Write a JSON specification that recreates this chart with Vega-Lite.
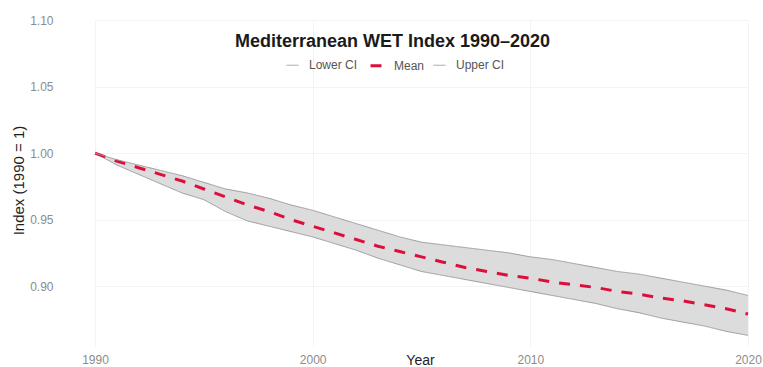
{
  "$schema": "https://vega.github.io/schema/vega-lite/v6.json",
  "autosize": "none",
  "padding": {"left": 95, "top": 20, "right": 15, "bottom": 21},
  "width": 653,
  "height": 326,
  "background": "white",
  "config": {
    "font": "Liberation Sans",
    "view": {"stroke": null},
    "axis": {
      "domain": false,
      "ticks": false,
      "grid": true,
      "gridColor": "#f3f3f3",
      "gridWidth": 1,
      "labelColor": "#8c8c8c",
      "labelFontSize": 12,
      "labelFlush": false,
      "titleColor": "#1e1e1e",
      "titleFontWeight": "normal"
    }
  },
  "title": {
    "text": "Mediterranean WET Index 1990–2020",
    "fontSize": 18,
    "fontWeight": "bold",
    "color": "#1a1a1a",
    "anchor": "middle",
    "frame": "group",
    "baseline": "alphabetic",
    "offset": 0,
    "dx": -29,
    "dy": 51
  },
  "data": {
    "values": [
      {"year": 1990, "lower": 1.000, "mean": 1.000, "upper": 1.000},
      {"year": 1991, "lower": 0.991, "mean": 0.994, "upper": 0.995},
      {"year": 1992, "lower": 0.984, "mean": 0.989, "upper": 0.991},
      {"year": 1993, "lower": 0.977, "mean": 0.984, "upper": 0.987},
      {"year": 1994, "lower": 0.970, "mean": 0.979, "upper": 0.983},
      {"year": 1995, "lower": 0.965, "mean": 0.973, "upper": 0.978},
      {"year": 1996, "lower": 0.956, "mean": 0.967, "upper": 0.973},
      {"year": 1997, "lower": 0.949, "mean": 0.961, "upper": 0.970},
      {"year": 1998, "lower": 0.945, "mean": 0.956, "upper": 0.966},
      {"year": 1999, "lower": 0.941, "mean": 0.950, "upper": 0.961},
      {"year": 2000, "lower": 0.937, "mean": 0.945, "upper": 0.957},
      {"year": 2001, "lower": 0.932, "mean": 0.940, "upper": 0.952},
      {"year": 2002, "lower": 0.927, "mean": 0.935, "upper": 0.947},
      {"year": 2003, "lower": 0.921, "mean": 0.930, "upper": 0.942},
      {"year": 2004, "lower": 0.916, "mean": 0.926, "upper": 0.937},
      {"year": 2005, "lower": 0.911, "mean": 0.922, "upper": 0.933},
      {"year": 2006, "lower": 0.908, "mean": 0.918, "upper": 0.931},
      {"year": 2007, "lower": 0.905, "mean": 0.914, "upper": 0.929},
      {"year": 2008, "lower": 0.902, "mean": 0.911, "upper": 0.927},
      {"year": 2009, "lower": 0.899, "mean": 0.908, "upper": 0.925},
      {"year": 2010, "lower": 0.896, "mean": 0.906, "upper": 0.922},
      {"year": 2011, "lower": 0.893, "mean": 0.903, "upper": 0.920},
      {"year": 2012, "lower": 0.890, "mean": 0.901, "upper": 0.917},
      {"year": 2013, "lower": 0.887, "mean": 0.899, "upper": 0.914},
      {"year": 2014, "lower": 0.883, "mean": 0.896, "upper": 0.911},
      {"year": 2015, "lower": 0.880, "mean": 0.894, "upper": 0.909},
      {"year": 2016, "lower": 0.876, "mean": 0.891, "upper": 0.906},
      {"year": 2017, "lower": 0.873, "mean": 0.889, "upper": 0.903},
      {"year": 2018, "lower": 0.870, "mean": 0.886, "upper": 0.900},
      {"year": 2019, "lower": 0.866, "mean": 0.883, "upper": 0.897},
      {"year": 2020, "lower": 0.863, "mean": 0.879, "upper": 0.893}
    ]
  },
  "encoding": {
    "x": {
      "field": "year",
      "type": "quantitative",
      "scale": {"domain": [1990, 2020], "nice": false, "zero": false},
      "axis": {
        "values": [1990, 2000, 2010, 2020],
        "format": "d",
        "labelPadding": 8,
        "title": "Year",
        "titleFontSize": 14,
        "titleX": 325,
        "titleY": 14,
        "titleBaseline": "middle",
        "titleAlign": "center"
      }
    }
  },
  "layer": [
    {
      "mark": {"type": "area", "color": "#d8d8d8", "opacity": 0.9},
      "encoding": {
        "y": {
          "field": "lower",
          "type": "quantitative",
          "scale": {"domain": [0.855, 1.10], "nice": false, "zero": false},
          "axis": {
            "values": [0.90, 0.95, 1.00, 1.05, 1.10],
            "format": ".2f",
            "labelPadding": 42,
            "title": "Index (1990 = 1)",
            "titleFontSize": 15,
            "titleAngle": -90,
            "titleX": -77,
            "titleY": 160,
            "titleAlign": "center",
            "titleBaseline": "middle"
          }
        },
        "y2": {"field": "upper"}
      }
    },
    {
      "transform": [
        {"fold": ["lower", "mean", "upper"], "as": ["key", "value"]},
        {"lookup": "key", "from": {"data": {"values": [
          {"key": "lower", "series": "Lower CI"},
          {"key": "mean", "series": "Mean"},
          {"key": "upper", "series": "Upper CI"}
        ]}, "key": "key", "fields": ["series"]}}
      ],
      "mark": {"type": "line", "strokeCap": "butt"},
      "encoding": {
        "y": {"field": "value", "type": "quantitative"},
        "detail": {"field": "series"},
        "color": {
          "field": "series",
          "type": "nominal",
          "scale": {"domain": ["Lower CI", "Mean", "Upper CI"], "range": ["#9c9c9c", "#dc0f3c", "#9c9c9c"]},
          "legend": {
            "title": null,
            "orient": "none",
            "direction": "horizontal",
            "legendX": 191,
            "legendY": 38,
            "padding": 0,
            "symbolType": "stroke",
            "symbolSize": 144,
            "labelFontSize": 12,
            "labelColor": "#555555",
            "labelOffset": 10,
            "columnPadding": 6
          }
        },
        "strokeDash": {
          "field": "series",
          "type": "nominal",
          "scale": {"domain": ["Lower CI", "Mean", "Upper CI"], "range": [[1, 0], [11, 10], [1, 0]]},
          "legend": null
        },
        "strokeWidth": {
          "field": "series",
          "type": "nominal",
          "scale": {"type": "ordinal", "domain": ["Lower CI", "Mean", "Upper CI"], "range": [1, 3, 1]},
          "legend": null
        }
      }
    }
  ]
}
